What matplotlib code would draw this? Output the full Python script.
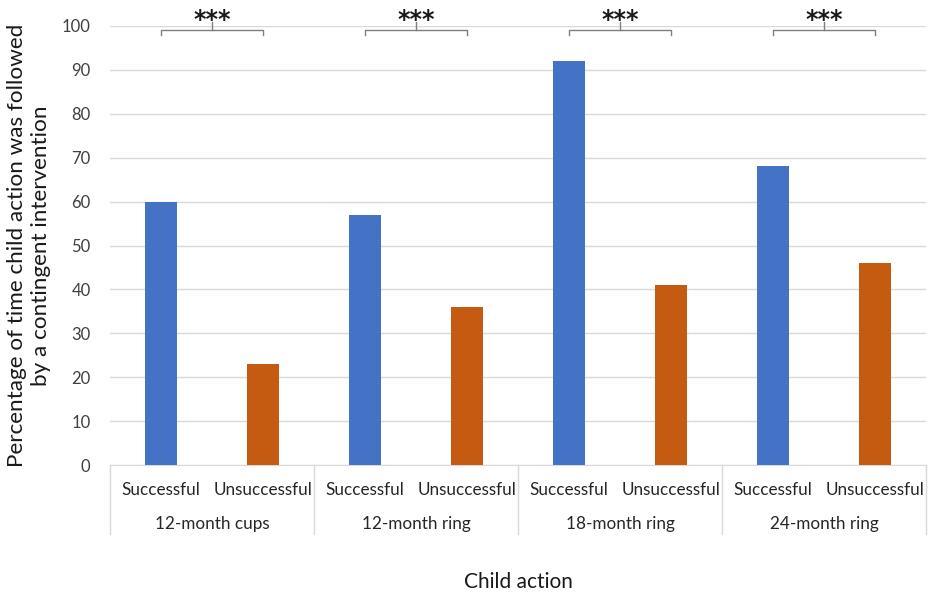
import numpy as np
import matplotlib.pyplot as plt
import matplotlib.transforms as mtransforms

plt.rcParams['font.family'] = ['Lato', 'DejaVu Sans']

groups = ["12-month cups", "12-month ring", "18-month ring", "24-month ring"]
actions = ["Successful", "Unsuccessful"]
successful = [60, 57, 92, 68]
unsuccessful = [23, 36, 41, 46]
sig = ["***", "***", "***", "***"]

blue, orange = "#4472c4", "#c55a11"
grid_c = "#d9d9d9"

fig = plt.figure(figsize=(9.29, 5.95), dpi=100)
ax = fig.add_axes([110/929, 1-465/595, 816/929, 439/595])

n = len(groups)
xs = np.arange(n)*2 + 0.5
xu = np.arange(n)*2 + 1.5
w = 0.31
ax.bar(xs, successful, w, color=blue, zorder=3)
ax.bar(xu, unsuccessful, w, color=orange, zorder=3)

ax.set_xlim(0, 2*n)
ax.set_ylim(0, 100)
ax.set_yticks(range(0, 101, 10))
ax.tick_params(axis='y', length=0, labelsize=12, colors='#404040', pad=14)
ax.yaxis.grid(True, color=grid_c, lw=1, zorder=0)
for s in ['top', 'right', 'left']:
    ax.spines[s].set_visible(False)
ax.spines['bottom'].set_color(grid_c)
ax.set_xticks([])

trans = mtransforms.blended_transform_factory(ax.transData, ax.transAxes)
px = 1/439  # one pixel in axes fraction (vertical)
for i in range(n):
    ax.text(xs[i], -25*px, actions[0], ha='center', va='center', fontsize=12.3,
            color='#262626', transform=trans)
    ax.text(xu[i], -25*px, actions[1], ha='center', va='center', fontsize=12.3,
            color='#262626', transform=trans)
    ax.text(2*i+1, -59*px, groups[i], ha='center', va='center', fontsize=12.3,
            color='#262626', transform=trans)
for b in range(n+1):
    ax.plot([2*b, 2*b], [0, -69*px], color=grid_c, lw=1, transform=trans, clip_on=False)

# significance brackets
for i in range(n):
    x0, x1 = xs[i], xu[i]
    xm = (x0+x1)/2
    yb, ye, yt = 99.2, 97.9, 100.9
    ax.plot([x0, x0, x1, x1], [ye, yb, yb, ye], color='#7f7f7f', lw=1, clip_on=False, zorder=4)
    ax.plot([xm, xm], [yb, yt], color='#7f7f7f', lw=1, clip_on=False, zorder=4)
    ax.text(xm, 99.8, sig[i], ha='center', va='baseline', fontsize=17,
            fontweight='bold', color='#1a1a1a', family='DejaVu Sans', clip_on=False)

ax.set_ylabel("Percentage of time child action was followed\nby a contingent intervention",
              fontsize=16.2, color='#1a1a1a', labelpad=8, linespacing=1.25)
fig.text(518/929, 1-582/595, "Child action", ha='center', va='center', fontsize=15, color='#1a1a1a')

fig.savefig("out.png", dpi=100)
